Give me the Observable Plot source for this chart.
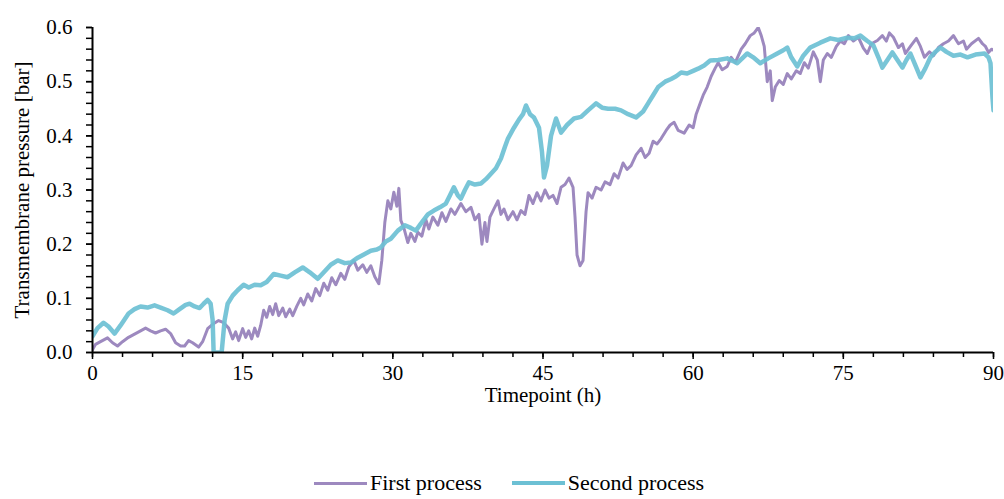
<!DOCTYPE html>
<html>
<head>
<meta charset="utf-8">
<script src="https://cdn.jsdelivr.net/npm/d3@7"></script>
<script src="https://cdn.jsdelivr.net/npm/@observablehq/plot@0.6"></script>
<style>
  html, body { margin: 0; padding: 0; background: #fff; }
  body { width: 1004px; height: 499px; overflow: hidden; font-family: "Liberation Serif", "DejaVu Serif", serif; }
  #legend { display: flex; justify-content: center; align-items: center; gap: 30px; margin-top: 59px; font-size: 22px; line-height: 24px; color: #000; padding-left: 14px; }
  .item { display: flex; align-items: center; }
  .sw { width: 53px; height: 0; margin-right: 3px; }
</style>
</head>
<body>
<div id="chart"></div>
<div id="legend"></div>
<script>
const seriesNames = ["First process", "Second process"];
const seriesColors = ["#9d89bf", "#6cc0d4"];

const firstHours = [0,0.3,0.8,1.5,2.0,2.5,3.0,3.6,4.2,4.8,5.3,5.8,6.3,6.8,7.3,7.8,8.3,8.8,9.2,9.6,10.0,10.6,11.0,11.5,12.0,12.6,13.1,13.6,14.0,14.3,14.6,15.0,15.3,15.6,15.9,16.2,16.5,16.8,17.1,17.4,17.7,18.0,18.3,18.6,19.0,19.3,19.7,20.0,20.4,20.8,21.1,21.5,21.9,22.3,22.7,23.1,23.5,23.9,24.3,24.8,25.2,25.6,26.1,26.5,27.0,27.4,27.8,28.2,28.6,28.9,29.2,29.5,29.8,30.1,30.4,30.6,30.8,31.1,31.5,31.8,32.2,32.5,32.9,33.3,33.6,34.0,34.5,34.9,35.3,35.8,36.2,36.8,37.3,37.8,38.2,38.6,38.9,39.2,39.4,39.7,40.1,40.5,40.8,41.1,41.5,42.0,42.4,42.8,43.2,43.6,44.0,44.4,44.8,45.2,45.6,46.0,46.4,46.8,47.2,47.6,48.0,48.2,48.4,48.7,49.0,49.3,49.5,49.9,50.3,50.8,51.2,51.7,52.1,52.5,53.0,53.4,53.8,54.3,54.8,55.2,55.6,56.0,56.4,56.8,57.3,57.7,58.1,58.5,59.1,59.6,60.0,60.3,60.7,61.0,61.4,61.8,62.2,62.5,62.9,63.4,63.8,64.2,64.8,65.2,65.7,66.1,66.5,66.8,67.1,67.4,67.7,67.9,68.2,68.6,69.0,69.4,69.8,70.3,70.7,71.1,71.5,72.0,72.4,72.7,73.0,73.4,73.8,74.3,74.7,75.1,75.5,76.0,76.5,77.0,77.4,77.8,78.4,78.9,79.3,79.6,80.0,80.5,80.9,81.2,81.7,82.3,82.7,83.1,83.6,84.0,84.5,85.0,85.5,86.0,86.5,87.0,87.3,87.8,88.5,88.9,89.2,89.5,89.8,90.0];
const firstValues = [0.005,0.015,0.02,0.027,0.018,0.012,0.02,0.028,0.034,0.04,0.045,0.04,0.036,0.04,0.043,0.035,0.018,0.012,0.012,0.022,0.018,0.01,0.02,0.044,0.052,0.059,0.055,0.045,0.025,0.038,0.022,0.044,0.028,0.04,0.025,0.045,0.03,0.05,0.078,0.065,0.085,0.07,0.09,0.068,0.082,0.066,0.08,0.068,0.085,0.1,0.088,0.108,0.095,0.118,0.105,0.128,0.115,0.138,0.125,0.146,0.135,0.158,0.17,0.152,0.162,0.148,0.16,0.14,0.127,0.17,0.24,0.28,0.265,0.296,0.27,0.303,0.244,0.23,0.203,0.22,0.205,0.222,0.215,0.245,0.228,0.25,0.235,0.258,0.242,0.265,0.255,0.275,0.26,0.268,0.245,0.255,0.2,0.24,0.205,0.25,0.265,0.28,0.255,0.265,0.245,0.26,0.245,0.262,0.255,0.29,0.275,0.295,0.28,0.3,0.285,0.29,0.275,0.305,0.31,0.322,0.305,0.25,0.18,0.16,0.17,0.26,0.295,0.285,0.305,0.3,0.315,0.31,0.33,0.322,0.35,0.338,0.345,0.365,0.377,0.36,0.368,0.39,0.385,0.395,0.41,0.42,0.425,0.41,0.405,0.42,0.415,0.44,0.46,0.475,0.49,0.51,0.525,0.535,0.522,0.528,0.545,0.535,0.56,0.57,0.585,0.59,0.6,0.585,0.565,0.5,0.52,0.465,0.49,0.502,0.495,0.515,0.505,0.52,0.515,0.535,0.525,0.555,0.54,0.5,0.54,0.552,0.545,0.565,0.575,0.57,0.585,0.575,0.582,0.562,0.552,0.57,0.576,0.585,0.575,0.59,0.582,0.563,0.57,0.552,0.565,0.58,0.565,0.545,0.555,0.548,0.563,0.57,0.575,0.585,0.57,0.575,0.56,0.57,0.58,0.57,0.565,0.554,0.56,0.558];

const secondHours = [0,0.5,1.1,1.6,2.2,2.8,3.6,4.2,4.8,5.5,6.2,6.8,7.5,8.1,8.7,9.3,9.7,10.2,10.7,11.1,11.5,11.8,12.0,12.1,12.9,13.2,13.5,14.0,14.5,15.1,15.6,16.2,16.8,17.4,18.1,18.8,19.5,20.2,21.0,21.7,22.5,23.2,23.8,24.5,25.2,25.8,26.5,27.2,27.8,28.4,28.8,29.3,29.8,30.5,31.2,31.8,32.3,32.8,33.5,34.1,34.7,35.3,35.7,36.1,36.5,36.8,37.2,37.6,38.2,38.8,39.3,39.8,40.3,40.8,41.2,41.5,42.1,42.6,43.0,43.3,43.7,44.1,44.6,44.9,45.1,45.4,45.8,46.3,46.8,47.4,48.1,48.8,49.5,50.3,50.9,51.5,52.2,52.8,53.5,54.3,55.0,55.5,56.0,56.5,57.2,57.8,58.3,58.8,59.4,60.0,60.5,61.1,61.7,62.5,63.4,64.0,64.4,65.0,65.4,66.0,66.7,67.5,68.4,69.0,69.4,69.8,70.4,71.0,71.7,72.7,73.7,74.5,75.4,76.1,76.7,77.4,78.0,78.5,78.9,79.4,79.9,80.4,80.9,81.3,81.7,82.2,82.7,83.2,83.7,84.2,84.7,85.3,86.0,86.7,87.4,88.2,89.1,89.5,89.7,89.9,90.0];
const secondValues = [0.03,0.045,0.055,0.048,0.035,0.05,0.072,0.08,0.085,0.083,0.087,0.083,0.078,0.072,0.08,0.088,0.09,0.085,0.082,0.09,0.097,0.09,0.06,0.0,0.0,0.06,0.09,0.105,0.115,0.125,0.12,0.125,0.124,0.13,0.145,0.142,0.139,0.148,0.157,0.148,0.136,0.15,0.162,0.17,0.165,0.166,0.175,0.182,0.188,0.19,0.194,0.205,0.21,0.225,0.235,0.23,0.225,0.238,0.255,0.262,0.268,0.275,0.29,0.305,0.29,0.284,0.3,0.314,0.31,0.312,0.32,0.33,0.34,0.358,0.38,0.395,0.415,0.43,0.44,0.456,0.44,0.434,0.415,0.37,0.323,0.345,0.4,0.432,0.406,0.42,0.432,0.435,0.447,0.46,0.452,0.45,0.45,0.447,0.44,0.434,0.445,0.46,0.475,0.49,0.5,0.505,0.51,0.517,0.515,0.52,0.524,0.53,0.539,0.54,0.543,0.538,0.534,0.545,0.552,0.545,0.534,0.543,0.552,0.558,0.563,0.545,0.528,0.548,0.563,0.572,0.58,0.577,0.581,0.58,0.585,0.575,0.567,0.545,0.526,0.54,0.554,0.54,0.526,0.54,0.552,0.53,0.508,0.525,0.545,0.555,0.563,0.555,0.548,0.55,0.545,0.55,0.552,0.545,0.534,0.47,0.447];

const xMinorTicks = d3.range(0, 91, 3);
const xMajorTicks = [0, 15, 30, 45, 60, 75, 90];
const yMinorTicks = d3.range(0, 31).map(i => i * 0.02);
const yMajorTicks = [0, 0.1, 0.2, 0.3, 0.4, 0.5, 0.6];
const xLabel = "Timepoint (h)";
const yLabel = "Transmembrane pressure [bar]";

const first = firstHours.map((h, i) => ({h, v: firstValues[i]}));
const second = secondHours.map((h, i) => ({h, v: secondValues[i]}));

const chart = Plot.plot({
  width: 1004,
  height: 412,
  marginLeft: 92,
  marginRight: 11,
  marginTop: 27,
  marginBottom: 60,
  style: {fontFamily: "Liberation Serif, DejaVu Serif, serif", fontSize: "21px", background: "#fff", color: "#000", overflow: "visible"},
  x: {domain: [0, 90], axis: null, label: null},
  y: {domain: [0, 0.6], axis: null, label: null},
  marks: [
    Plot.line(first, {x: "h", y: "v", stroke: seriesColors[0], strokeWidth: 3, clip: true}),
    Plot.line(second, {x: "h", y: "v", stroke: seriesColors[1], strokeWidth: 4.5, strokeOpacity: 0.92, clip: true}),
    Plot.axisX(xMinorTicks, {label: null, tickSize: 5, tickFormat: () => "", stroke: "#000", strokeWidth: 1.5}),
    Plot.axisX(xMajorTicks, {label: null, tickSize: 7, tickPadding: 6, tickFormat: d => String(d), stroke: "#000", strokeWidth: 1.5, fontSize: 21}),
    Plot.axisY(yMinorTicks, {label: null, tickSize: 6, tickFormat: () => "", stroke: "#000", strokeWidth: 1.5}),
    Plot.axisY(yMajorTicks, {label: null, tickSize: 6, tickPadding: 14, tickFormat: d3.format(".1f"), stroke: "#000", strokeWidth: 1.5, fontSize: 21}),
    Plot.ruleY([0], {stroke: "#000", strokeWidth: 2}),
    Plot.ruleX([0], {stroke: "#000", strokeWidth: 2}),
    Plot.text([xLabel], {frameAnchor: "bottom", dy: 43, lineAnchor: "middle", textAnchor: "middle", fontSize: 21, fill: "#000"}),
    Plot.text([yLabel], {frameAnchor: "left", dx: -70, rotate: -90, textAnchor: "middle", lineAnchor: "middle", fontSize: 21, fill: "#000"})
  ]
});
document.getElementById("chart").appendChild(chart);

const legend = document.getElementById("legend");
seriesNames.forEach((name, i) => {
  const item = document.createElement("div");
  item.className = "item";
  const sw = document.createElement("span");
  sw.className = "sw";
  sw.style.borderTop = (i === 0 ? 3 : 4) + "px solid " + seriesColors[i];
  const label = document.createElement("span");
  label.textContent = name;
  item.appendChild(sw);
  item.appendChild(label);
  legend.appendChild(item);
});
</script>
</body>
</html>
